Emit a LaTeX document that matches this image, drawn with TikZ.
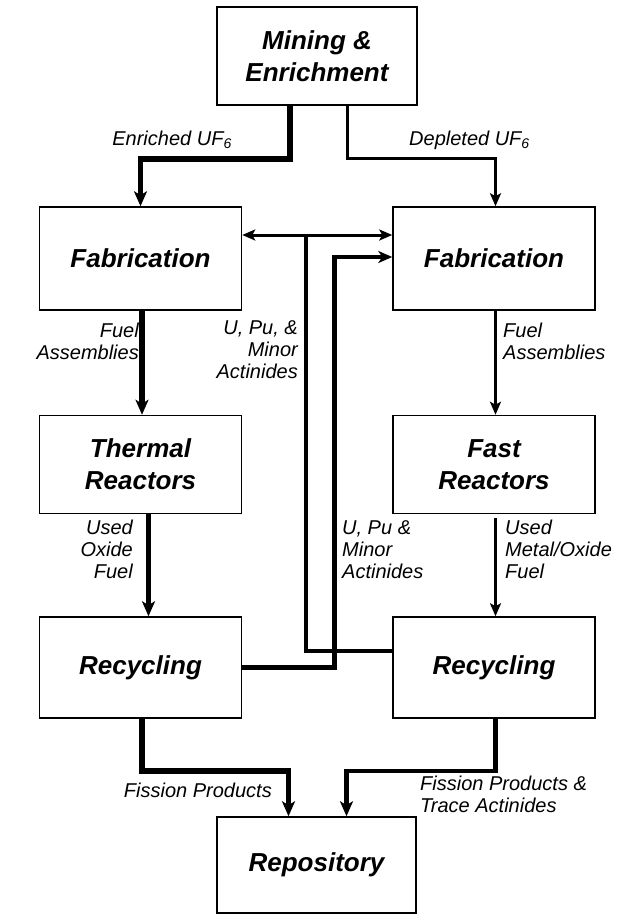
\documentclass[tikz,border=0pt]{standalone}
\usepackage{fontspec}
\setmainfont{Liberation Sans}
\usetikzlibrary{arrows.meta,positioning}

\begin{document}
\begin{tikzpicture}[x=1pt,y=-1pt,
    box/.style={rectangle, draw, line width=1.5pt, align=center,
      minimum width=202pt, inner sep=2pt,
      font=\fontsize{26}{32}\selectfont\bfseries\itshape},
    lbl/.style={align=left, inner sep=0pt,
      font=\fontsize{20}{22}\selectfont\itshape},
    lblr/.style={lbl, align=right},
    fl/.style={-{Stealth[length=15pt,width=13pt,inset=4pt]}, line width=5.5pt},
    fln/.style={-{Stealth[length=13pt,width=11pt,inset=3pt]}, line width=3pt},
    flm/.style={-{Stealth[length=14pt,width=12pt,inset=4pt]}, line width=4.5pt},
    flb/.style={{Stealth[length=13pt,width=11pt,inset=3pt]}-{Stealth[length=13pt,width=11pt,inset=3pt]},
      line width=3pt}]
    \useasboundingbox (0,0) rectangle (633,916);
    % boxes
    \node[box, minimum width=200pt, minimum height=98pt] (mine) at (317,56)
      {Mining \&\\ Enrichment};
    \node[box, minimum height=103pt] (fabL) at (140.5,258.5) {Fabrication};
    \node[box, minimum height=103pt, right=150pt of fabL] (fabR) {Fabrication};
    \node[box, minimum height=98pt, below=104pt of fabL] (therm)
      {Thermal\\ Reactors};
    \node[box, minimum height=98pt, below=104pt of fabR] (fast)
      {Fast\\ Reactors};
    \node[box, minimum height=101pt, below=102pt of therm] (recL) {Recycling};
    \node[box, minimum height=101pt, below=102pt of fast] (recR) {Recycling};
    \node[box, minimum width=199pt, minimum height=96pt] (repo) at (316.5,865)
      {Repository};
    % flows
    \draw[fl] ([xshift=-27pt]mine.south) -- ++(0,53) -| (fabL.north);
    \draw[fln] ([xshift=30pt]mine.south) -- ++(0,53) -| ([xshift=1.5pt]fabR.north);
    \draw[fl] ([xshift=1.5pt]fabL.south) -- ([xshift=1.5pt]therm.north);
    \draw[fln] ([xshift=1.5pt]fabR.south) -- ([xshift=1.5pt]fast.north);
    \draw[fl] ([xshift=8pt]therm.south) -- ([xshift=8pt]recL.north);
    \draw[fln] ([xshift=1.5pt,yshift=-4pt]fast.south) -- ([xshift=1.5pt]recR.north);
    \coordinate (jn) at (306,235);
    \draw[flb] ([yshift=23.5pt]fabL.east) -- ([yshift=23.5pt]fabR.west);
    \draw[line width=4.5pt] ([yshift=16.5pt]recR.west) -| (jn);
    \draw[flm] (recL.east) -| ([xshift=-58pt,yshift=1.5pt]fabR.west)
      -- ([yshift=1.5pt]fabR.west);
    \draw[fl] ([xshift=1.5pt]recL.south) -- ++(0,52) -| ([xshift=-28pt]repo.north);
    \draw[fl, line width=4.5pt] ([xshift=1.5pt]recR.south) -- ++(0,52)
      -| ([xshift=30pt]repo.north);
    % labels
    \node[lbl, anchor=east] (enr) at (232,140) {Enriched UF\textsubscript{6}};
    \node[lbl, anchor=west] (dep) at (409,140) {Depleted UF\textsubscript{6}};
    \node[lblr, anchor=north east] (faL) at (139,323) {Fuel\\ Assemblies};
    \node[lbl, anchor=north west] (faR) at (503,323) {Fuel\\ Assemblies};
    \node[lblr, anchor=north east] (upu1) at (298,320) {U, Pu, \&\\ Minor\\ Actinides};
    \node[lblr, anchor=north east] (uof) at (133,520) {Used\\ Oxide\\ Fuel};
    \node[lbl, anchor=north west] (umo) at (505,520) {Used\\ Metal/Oxide\\ Fuel};
    \node[lbl, anchor=north west] (upu2) at (342,520) {U, Pu \&\\ Minor\\ Actinides};
    \node[lbl, anchor=east] (fpL) at (272,790) {Fission Products};
    \node[lbl, anchor=north west] (fpR) at (420,776)
      {Fission Products \&\\ Trace Actinides};
  \end{tikzpicture}
\end{document}
